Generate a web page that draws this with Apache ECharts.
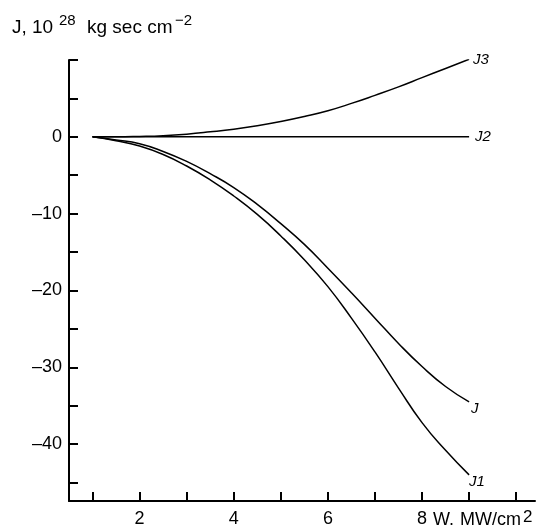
<!DOCTYPE html>
<html>
<head>
<meta charset="utf-8">
<script src="https://cdn.jsdelivr.net/npm/echarts@6/dist/echarts.min.js"></script>
<style>
  html, body { margin: 0; padding: 0; background: #fff; }
  #main { width: 559px; height: 528px; }
</style>
</head>
<body>
<div id="main"></div>
<script>
// W, MW/cm2
var wValues = [1, 1.5, 2, 2.5, 3, 3.5, 4, 4.5, 5, 5.5, 6, 6.5, 7, 7.5, 8, 8.5, 9];
// J, 10^28 kg sec cm^-2
var jValues  = [0, -0.4, -0.9, -1.9, -3.2, -4.8, -6.6, -8.8, -11.3, -14.0, -17.1, -20.3, -23.6, -26.9, -29.9, -32.5, -34.5];
var j1Values = [0, -0.5, -1.2, -2.3, -3.8, -5.6, -7.7, -10.1, -12.9, -16.0, -19.5, -23.6, -28.0, -32.7, -37.2, -40.8, -44.0];
var j2Values = [0, 0, 0, 0, 0, 0, 0, 0, 0, 0, 0, 0, 0, 0, 0, 0, 0];
var j3Values = [0, 0, 0.05, 0.15, 0.35, 0.65, 1.0, 1.45, 2.0, 2.65, 3.4, 4.35, 5.4, 6.5, 7.7, 8.9, 10.1];

var xTicks = [1, 2, 3, 4, 5, 6, 7, 8, 9, 10];
var xLabels = [2, 4, 6, 8];
var yTicks = [-45, -40, -35, -30, -25, -20, -15, -10, -5, 0, 5, 10];
var yLabels = [-40, -30, -20, -10, 0];

function pairs(ys) {
    return wValues.map(function (w, i) { return [w, ys[i]]; });
}

var font = '"Liberation Sans", Arial, sans-serif';

function curve(name, ys, labelOffset) {
    return {
        name: name,
        type: 'line',
        data: pairs(ys),
        smooth: true,
        symbol: 'none',
        lineStyle: { color: '#000', width: 1.5 },
        endLabel: {
            show: true,
            formatter: name,
            distance: 4,
            offset: labelOffset,
            color: '#000',
            fontStyle: 'italic',
            fontSize: 15,
            fontFamily: font
        },
        z: 3
    };
}

function txt(s, x, y, size) {
    return {
        type: 'text',
        x: x,
        y: y,
        style: {
            text: s,
            fill: '#000',
            font: size + 'px ' + font,
            verticalAlign: 'middle'
        }
    };
}

var myChart = echarts.init(document.getElementById('main'));
var option = {
    backgroundColor: '#fff',
    animation: false,
    grid: { left: 69, right: 24, top: 60, bottom: 26 },
    xAxis: {
        type: 'value',
        min: 0.5,
        max: 10.4,
        splitLine: { show: false },
        axisLine: { show: true, onZero: false, lineStyle: { color: '#000', width: 2 } },
        axisTick: { show: true, inside: true, length: 9, customValues: xTicks, lineStyle: { color: '#000', width: 2 } },
        axisLabel: { customValues: xLabels, color: '#000', fontSize: 18, fontFamily: font, margin: 9 }
    },
    yAxis: {
        type: 'value',
        min: -47.4,
        max: 10,
        splitLine: { show: false },
        axisLine: { show: true, onZero: false, lineStyle: { color: '#000', width: 2 } },
        axisTick: { show: true, inside: true, length: 9, customValues: yTicks, lineStyle: { color: '#000', width: 2 } },
        axisLabel: {
            customValues: yLabels,
            color: '#000', fontSize: 18, fontFamily: font, margin: 7,
            formatter: function (v) { return String(v).replace('-', '\u2013'); }
        }
    },
    graphic: [
        // y axis title
        txt('J, 10', 12, 28, 19),
        txt('28', 59, 21, 15),
        txt('kg sec cm', 87, 28, 19),
        txt('\u22122', 175, 21, 15),
        // x axis title
        txt('W.', 433, 520, 18),
        txt('MW/cm', 460, 520, 18),
        txt('2', 523, 517, 17)
    ],
    series: [
        curve('J3', j3Values, [0, 1]),
        curve('J2', j2Values, [2, 0]),
        curve('J', jValues, [-2, 7]),
        curve('J1', j1Values, [-4, 7])
    ]
};
myChart.setOption(option);
</script>
</body>
</html>
